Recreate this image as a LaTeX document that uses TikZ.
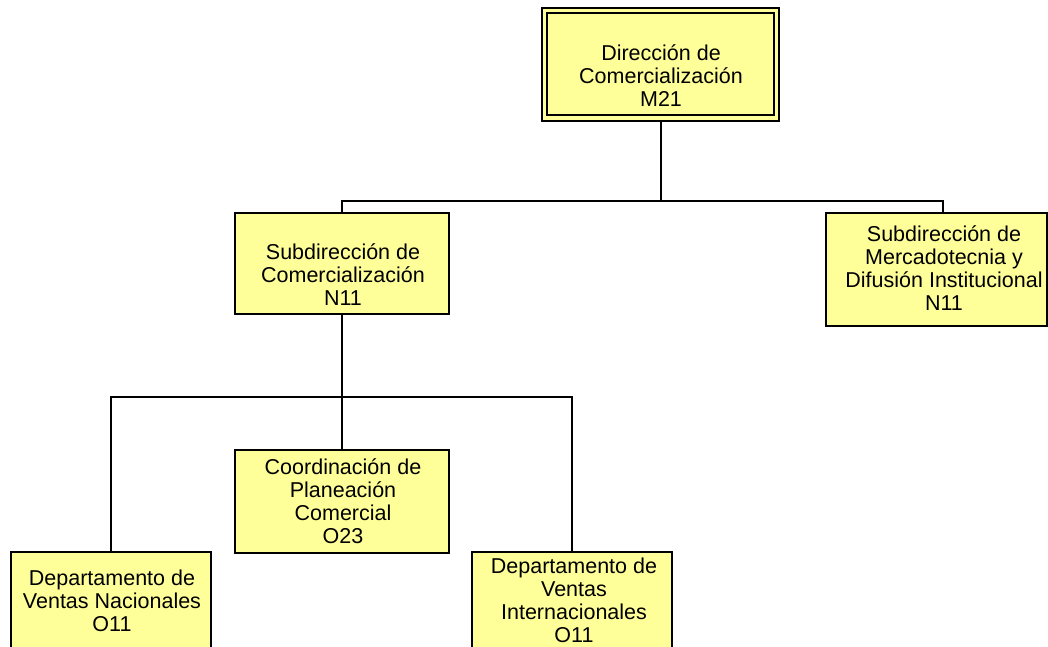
\documentclass[tikz,border=0pt]{standalone}
\usepackage{fontspec}
\setmainfont{Liberation Sans}
\definecolor{boxfill}{RGB}{255,255,153}
\begin{document}
\begin{tikzpicture}[x=1pt,y=-1pt,
  box/.style={draw=black, line width=2pt, fill=boxfill, rectangle, inner sep=0pt},
  txt/.style={align=center, font=\fontsize{21.5}{23}\selectfont, inner sep=0pt},
  conn/.style={draw=black, line width=2pt}]
\useasboundingbox (0,0) rectangle (1048,646);
\clip (0,0) rectangle (1048,646);
% top box (double border)
\node[box, minimum width=237pt, minimum height=113pt] (dir) at (660.5,64) {};
\draw[black, line width=2pt] (547,13) rectangle (774,115);
\node[txt] (dirt) at (661,76) {Dirección de\\Comercialización\\M21};
% second level
\node[box, minimum width=214pt, minimum height=101pt] (sc) at (341.5,263.5) {};
\node[txt] (sct) at (343,275) {Subdirección de\\Comercialización\\N11};
\node[box, minimum width=221pt, minimum height=113pt] (sm) at (936.5,269.5) {};
\node[txt] (smt) at (944,268.5) {Subdirección de\\Mercadotecnia y\\Difusión Institucional\\N11};
% third level
\node[box, minimum width=214pt, minimum height=103pt] (co) at (341.5,501.5) {};
\node[txt] (cot) at (343,501.5) {Coordinación de\\Planeación\\Comercial\\O23};
\node[box, minimum width=200pt, minimum height=98pt] (dn) at (111,601) {};
\node[txt] (dnt) at (112,601) {Departamento de\\Ventas Nacionales\\O11};
\node[box, minimum width=200pt, minimum height=98pt] (di) at (572,601) {};
\node[txt] (dit) at (574,600) {Departamento de\\Ventas\\Internacionales\\O11};
% connectors
\coordinate (j1) at (660.5,201);
\coordinate (j2) at (341.5,397);
\draw[conn] (dir.south) -- (j1);
\draw[conn] (sc.north) |- (j1) -| (943,213);
\draw[conn] (sc.south) -- (j2);
\draw[conn] (dn.north) |- (j2) -| (di.north);
\draw[conn] (j2) -- (co.north);
\end{tikzpicture}
\end{document}
